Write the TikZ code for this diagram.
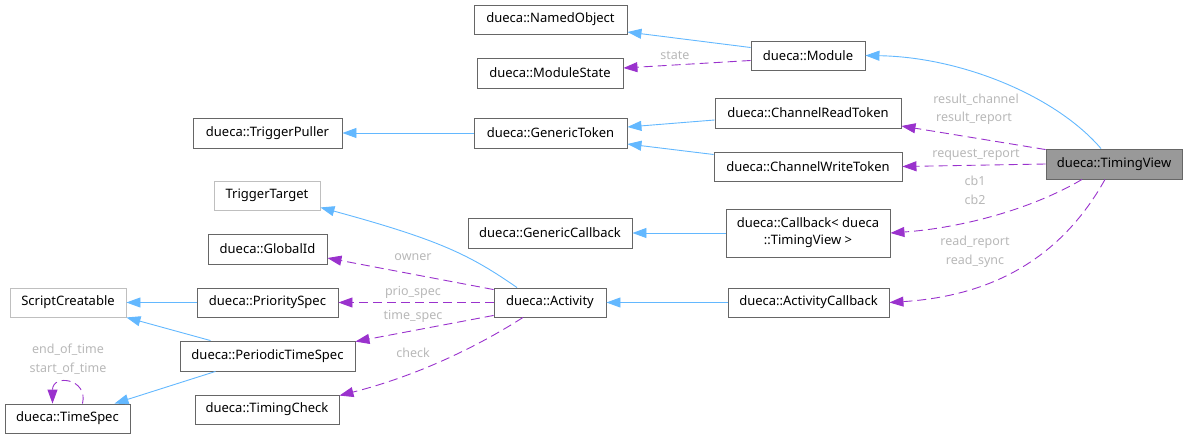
\documentclass[tikz,border=0pt]{standalone}
\usepackage{fontspec}
\setmainfont{Noto Sans}
\usetikzlibrary{arrows.meta}
\definecolor{inhblue}{HTML}{63B8FF}
\definecolor{usepurple}{HTML}{9A32CD}
\definecolor{boxgray}{HTML}{666666}
\definecolor{lightbox}{HTML}{BFBFBF}
\definecolor{labgray}{HTML}{B8B8B8}
\definecolor{tvfill}{HTML}{999999}
\tikzset{
  cls/.style={draw=boxgray, line width=0.9pt, fill=white, inner sep=0pt, align=center,
    font=\fontsize{13}{17}\selectfont, text=black},
  ext/.style={cls, draw=lightbox},
  inh/.style={draw=inhblue, line width=0.9pt, -{Triangle[length=14pt,width=10pt,fill=inhblue]}},
  use/.style={draw=usepurple, line width=0.9pt, dash pattern=on 9pt off 5pt, -{Triangle[length=14pt,width=10pt,fill=usepurple]}},
  lab/.style={font=\fontsize{12.5}{15}\selectfont, text=labgray, inner sep=0pt}
}
\begin{document}
\begin{tikzpicture}[x=1pt,y=-1pt]
\useasboundingbox (0,0) rectangle (1188,439);
% nodes
\node[cls, minimum width=153pt, minimum height=29pt] (nobj) at (550.5,19.5) {dueca::NamedObject};
\node[cls, minimum width=146pt, minimum height=30pt] (mstate) at (550,73) {dueca::ModuleState};
\node[cls, minimum width=114pt, minimum height=29pt] (mod) at (808,55.5) {dueca::Module};
\node[cls, minimum width=149pt, minimum height=30pt] (tp) at (267.5,133) {dueca::TriggerPuller};
\node[cls, minimum width=153pt, minimum height=30pt] (gt) at (550.5,133) {dueca::GenericToken};
\node[cls, minimum width=186pt, minimum height=30pt] (crt) at (808,113) {dueca::ChannelReadToken};
\node[cls, minimum width=188pt, minimum height=29pt] (cwt) at (808,166.5) {dueca::ChannelWriteToken};
\node[cls, fill=tvfill, minimum width=136pt, minimum height=30pt] (tv) at (1114,164) {dueca::TimingView};
\node[ext, minimum width=106pt, minimum height=29pt] (tt) at (267,195.5) {TriggerTarget};
\node[cls, minimum width=164pt, minimum height=30pt] (gc) at (550,233) {dueca::GenericCallback};
\node[cls, minimum width=164pt, minimum height=48pt] (cb) at (808,233) {dueca::Callback< dueca\\ ::TimingView >};
\node[cls, minimum width=119pt, minimum height=30pt] (gid) at (267.5,249) {dueca::GlobalId};
\node[ext, minimum width=116pt, minimum height=29pt] (sc) at (68,302.5) {ScriptCreatable};
\node[cls, minimum width=141pt, minimum height=29pt] (ps) at (267.5,302.5) {dueca::PrioritySpec};
\node[cls, minimum width=112pt, minimum height=29pt] (act) at (550,302.5) {dueca::Activity};
\node[cls, minimum width=161pt, minimum height=29pt] (ac) at (808.5,302.5) {dueca::ActivityCallback};
\node[cls, minimum width=175pt, minimum height=30pt] (pts) at (267.5,356) {dueca::PeriodicTimeSpec};
\node[cls, minimum width=125pt, minimum height=29pt] (ts) at (67.5,418.5) {dueca::TimeSpec};
\node[cls, minimum width=144pt, minimum height=29pt] (tc) at (267,409.5) {dueca::TimingCheck};
% inheritance
\draw[inh] ([yshift=8pt]mod.west) -- ([yshift=-12.5pt]nobj.east);
\draw[inh] ([xshift=-13pt]tv.north) .. controls (1055,95) and (960,57) .. (mod.east);
\draw[inh] (gt.west) -- (tp.east);
\draw[inh] ([yshift=-7pt]crt.west) -- ([yshift=6pt]gt.east);
\draw[inh] ([yshift=12pt]cwt.west) -- ([yshift=-11pt]gt.east);
\draw[inh] (cb.west) -- (gc.east);
\draw[inh] (ac.west) -- (act.east);
\draw[inh] ([xshift=-33pt]act.north) .. controls (470,255) and (440,240) .. ([yshift=3pt]tt.south east);
\draw[inh] (ps.west) -- (sc.east);
\draw[inh] ([xshift=-57pt]pts.north) -- (sc.south east);
\draw[inh] ([xshift=-52pt]pts.south) -- ([xshift=47pt]ts.north);
% usage
\draw[use] ([yshift=-5pt]mod.west) -- ([yshift=5pt]mstate.east);
\node[lab] (lstate) at (675,55) {state};
\draw[use] ([yshift=-1pt]tv.north west) -- ([yshift=-13pt]crt.east);
\node[lab] (lrc) at (976,100) {result\_channel};
\node[lab] (lrr) at (974,118) {result\_report};
\draw[use] (tv.west) -- (cwt.east);
\node[lab] (lreq) at (976,155) {request\_report};
\draw[use] ([xshift=-32pt]tv.south) .. controls (1030,210) and (960,228) .. (cb.east);
\node[lab] (lcb1) at (975,181) {cb1};
\node[lab] (lcb2) at (975,200) {cb2};
\draw[use] ([xshift=-9pt]tv.south) .. controls (1060,260) and (990,296) .. (ac.east);
\node[lab] (lrdr) at (975,242) {read\_report};
\node[lab] (lrds) at (975,261) {read\_sync};
\draw[use] ([yshift=-2pt]act.north west) -- ([yshift=-9pt]gid.east);
\node[lab] (lown) at (413,257) {owner};
\draw[use] (act.west) -- (ps.east);
\node[lab] (lprio) at (413,292) {prio\_spec};
\draw[use] ([yshift=2pt]act.south west) -- ([yshift=-1pt]pts.north east);
\node[lab] (ltime) at (413,316) {time\_spec};
\draw[use] ([xshift=-27pt]act.south) .. controls (480,345) and (420,375) .. ([yshift=-1pt]tc.north east);
\node[lab] (lchk) at (413,353) {check};
\draw[use] ([xshift=15pt]ts.north) .. controls +(6pt,25pt) and +(0pt,30pt) .. ([xshift=-15pt]ts.north);
\node[lab] (leot) at (68,350) {end\_of\_time};
\node[lab] (lsot) at (68,369) {start\_of\_time};
\end{tikzpicture}
\end{document}
